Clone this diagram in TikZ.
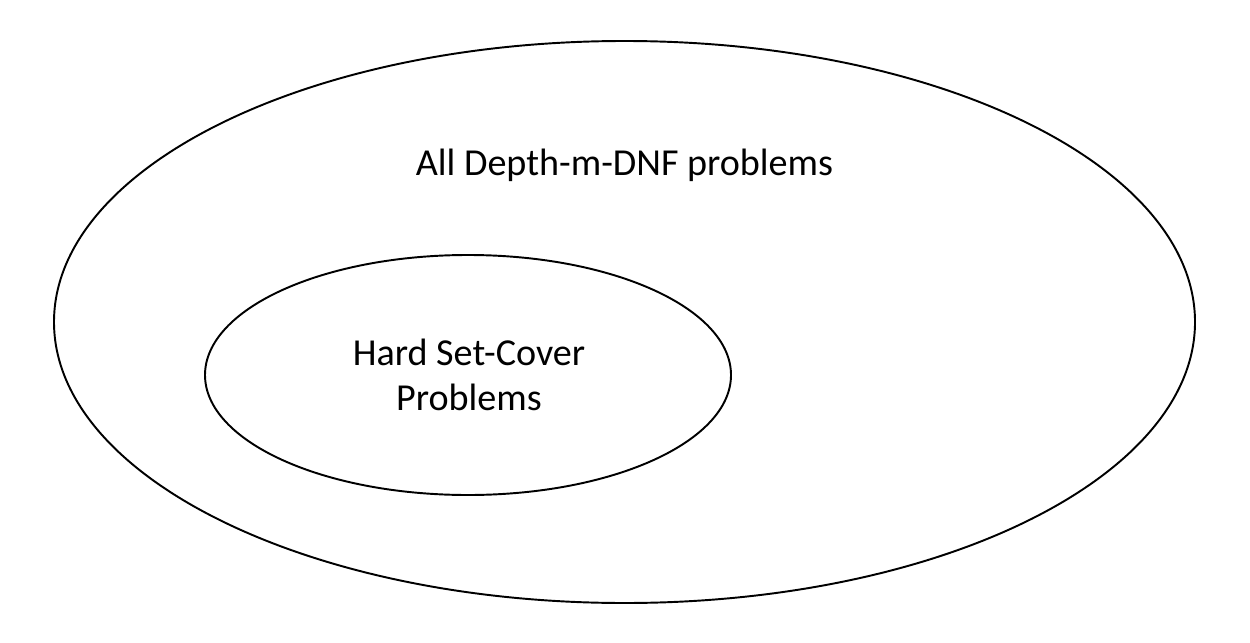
\documentclass[tikz,border=0pt]{standalone}
\usepackage{fontspec}
\setmainfont{Carlito}
\usepackage{tikz}
\usetikzlibrary{calc}

\begin{document}
\begin{tikzpicture}[x=0.02cm,y=-0.02cm,line width=1.1pt]
    \useasboundingbox(0,0)rectangle(1250,642);
    \draw(624.5,322)ellipse[x radius=570.5,y radius=281];
    \draw(468,375)ellipse[x radius=263,y radius=120];
    \node[anchor=base,font=\fontsize{21.7}{25.5}\selectfont](all)at(624.5,175){All Depth-m-DNF problems};
    \node[anchor=base,align=center,font=\fontsize{21.7}{25.5}\selectfont](hard)at(469,410){Hard Set-Cover\\Problems};
  \end{tikzpicture}
\end{document}
